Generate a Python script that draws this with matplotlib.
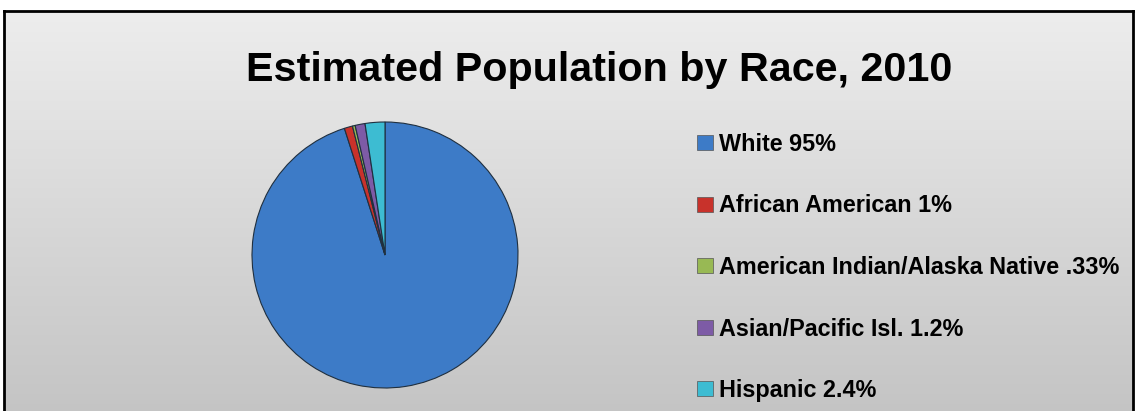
import numpy as np
import matplotlib
matplotlib.use("Agg")
from matplotlib import pyplot as plt
from matplotlib.patches import Patch

title = "Estimated Population by Race, 2010"
races = ["White 95%", "African American 1%", "American Indian/Alaska Native .33%",
         "Asian/Pacific Isl. 1.2%", "Hispanic 2.4%"]
shares = [95, 1, 0.33, 1.2, 2.4]
colors = ["#3d7bc7", "#c8322b", "#98b954", "#7d5ba6", "#3dbcd2"]

plt.rcParams["font.family"] = ["Liberation Sans", "DejaVu Sans"]

W, H = 1136, 411
fig = plt.figure(figsize=(W / 100, H / 100), dpi=100)
fig.patch.set_facecolor("white")

# chart area with a soft grey gradient and black frame
bg = fig.add_axes([4 / W, 0, 1129 / W, 400 / H])
grad = np.linspace(0.93, 0.77, 256).reshape(-1, 1)
bg.imshow(np.dstack([grad, grad, grad]), aspect="auto", extent=[0, 1, 0, 1])
bg.set_xticks([])
bg.set_yticks([])
for side in ["left", "top", "right"]:
    bg.spines[side].set_color("black")
    bg.spines[side].set_linewidth(2)
bg.spines["bottom"].set_visible(False)

# pie
cx, cy, r = 385, 255, 133
ax = fig.add_axes([(cx - r) / W, (H - cy - r) / H, 2 * r / W, 2 * r / H])
wedges, _ = ax.pie(shares, colors=colors, startangle=90, counterclock=False,
                   wedgeprops=dict(edgecolor="#1f2f3f", linewidth=0.8))
ax.set_xlim(-1, 1)
ax.set_ylim(-1, 1)
ax.set_aspect("equal")
ax.axis("off")

fig.text(599 / W, 1 - 81 / H, title, ha="center", va="baseline",
         fontsize=29.7, fontweight="bold")

handles = [Patch(facecolor=c, edgecolor="#555555", linewidth=0.5) for c in colors]
fig.legend(handles, races, loc="upper left", bbox_to_anchor=(697 / W, 1 - 133 / H),
           frameon=False, prop=dict(size=16.8, weight="bold"),
           borderpad=0, borderaxespad=0,
           handlelength=0.69, handleheight=0.6, handletextpad=0.26,
           labelspacing=1.65)

fig.savefig("out.png", dpi=100)
